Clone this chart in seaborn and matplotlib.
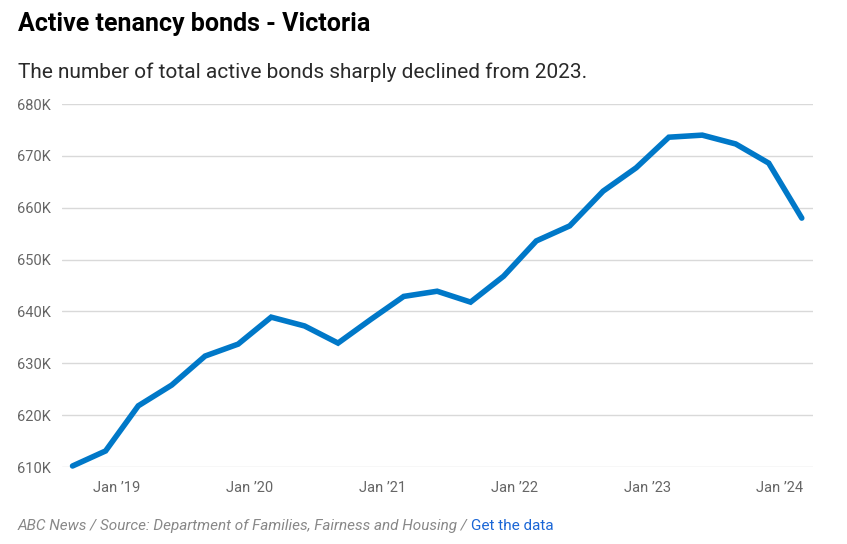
import pandas as pd
import matplotlib
matplotlib.use("Agg")
import matplotlib.pyplot as plt
import seaborn as sns

# quarterly active bonds, Victoria
dates = pd.date_range("2018-09-01", "2024-03-01", freq="3MS")
bonds = [610.2, 613.1, 621.8, 625.8, 631.4, 633.7, 638.9, 637.2, 633.9,
         638.5, 642.9, 643.9, 641.8, 646.8, 653.6, 656.5, 663.2, 667.7,
         673.6, 674.0, 672.3, 668.6, 658.0]
y_ticks = [610, 620, 630, 640, 650, 660, 670, 680]
x_ticks = ["2019-01-01", "2020-01-01", "2021-01-01", "2022-01-01", "2023-01-01", "2024-01-01"]

df = pd.DataFrame({"date": dates, "bonds": [b * 1000 for b in bonds]})

sns.set_style("white")
plt.rcParams["font.family"] = ["Roboto", "DejaVu Sans"]

fig = plt.figure(figsize=(8.47, 5.44), dpi=100)
ax = fig.add_axes([0.0732, 0.1415, 0.8867, 0.6673])

sns.lineplot(data=df, x="date", y="bonds", ax=ax, color="#0078c8",
             linewidth=4, clip_on=False, solid_joinstyle="miter")

ax.set_ylim(610000, 680000)
ax.set_xlim(pd.Timestamp("2018-08-03"), pd.Timestamp("2024-04-01"))
ax.set_yticks([v * 1000 for v in y_ticks])
ax.set_yticklabels([f"{v}K" for v in y_ticks])
ax.set_xticks(pd.to_datetime(x_ticks))
ax.set_xticklabels([f"Jan \u2019{d[2:4]}" for d in x_ticks])
ax.grid(axis="y", color="#d9d9d9", linewidth=1)
ax.set_axisbelow(True)
for s in ax.spines.values():
    s.set_visible(False)
ax.tick_params(axis="both", length=0, labelsize=10.5, labelcolor="#666666")
ax.tick_params(axis="x", pad=10)
ax.tick_params(axis="y", pad=8)
ax.set_xlabel("")
ax.set_ylabel("")

fig.text(0.021, 0.955, "Active tenancy bonds - Victoria", fontsize=18,
         fontweight="bold", color="#000000", va="center")
fig.text(0.021, 0.868, "The number of total active bonds sharply declined from 2023.",
         fontsize=15, color="#2a2a2a", va="center")

t1 = fig.text(0.021, 0.034, "ABC News / Source: Department of Families, Fairness and Housing / ",
              fontsize=11, style="italic", color="#888888", va="center")
fig.canvas.draw()
bb = t1.get_window_extent()
fig.text(bb.x1 / fig.bbox.width, 0.034, "Get the data", fontsize=11,
         color="#1a66d6", va="center")

fig.savefig("out.png", dpi=100)
